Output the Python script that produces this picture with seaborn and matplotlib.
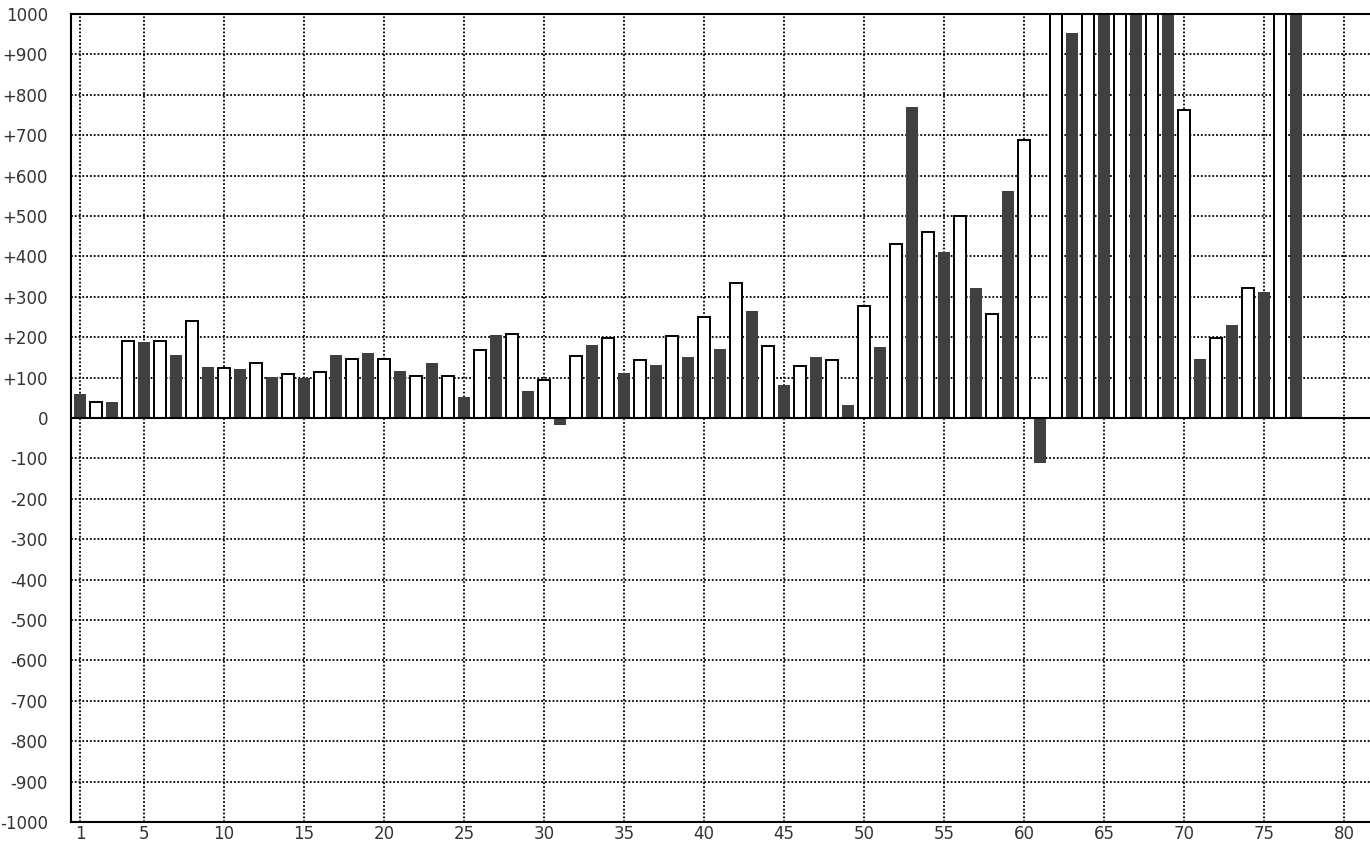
import matplotlib
matplotlib.use("Agg")
import matplotlib.pyplot as plt
import numpy as np
import pandas as pd
import seaborn as sns

# ── Data ──────────────────────────────────────────────────────────────────────
positions = list(range(1, 78))
values = [60, 40, 40, 190, 187, 190, 157, 241, 127, 125,
          122, 135, 102, 110, 98, 115, 157, 145, 162, 145,
          117, 105, 137, 105, 51, 169, 206, 209, 66, 94,
          -18, 154, 181, 199, 111, 144, 131, 204, 151, 249,
          171, 334, 266, 179, 81, 129, 151, 144, 31, 278,
          175, 430, 769, 460, 412, 500, 323, 257, 561, 688,
          -111, 1150, 952, 1200, 1180, 1250, 1220, 1300, 1260, 762,
          145, 197, 229, 321, 313, 1350, 1320]
series = ["dark" if p % 2 else "light" for p in positions]
x_ticks = [1] + list(range(5, 81, 5))
y_ticks = list(range(-1000, 1001, 100))
y_labels = [f"+{v}" if 0 < v < 1000 else str(v) for v in y_ticks]

DARK = "#404040"
sns.set_theme(style="white")
plt.rcParams["font.family"] = ["DejaVu Sans"]

df = pd.DataFrame({"pos": positions, "value": values, "series": series})

fig = plt.figure(figsize=(13.7, 8.44), dpi=100)
ax = fig.add_axes([71 / 1370, 22 / 844, 1 - 71 / 1370, 808 / 844])

sns.barplot(data=df, x="pos", y="value", hue="series",
            palette={"dark": DARK, "light": "white"}, native_scale=True,
            width=0.75, dodge=False, legend=False, errorbar=None,
            saturation=1, ax=ax)

# white bars get a black outline, dark bars none
for p in ax.patches:
    if p.get_facecolor()[0] > 0.9:
        p.set_edgecolor("black")
        p.set_linewidth(1.4)
    else:
        p.set_edgecolor("none")
        p.set_linewidth(0)

ax.set_xlim(0.44, 81.6)
ax.set_ylim(-1000, 1000)
ax.set_xticks(x_ticks)
ax.set_xticklabels([str(t) for t in x_ticks])
ax.set_yticks(y_ticks)
ax.set_yticklabels(y_labels)
ax.set_xlabel("")
ax.set_ylabel("")

ax.set_axisbelow(True)
ax.grid(True, color="black", linestyle=(0, (1, 1.1)), linewidth=1.3)
ax.axhline(0, color="black", linewidth=1.5, zorder=5)

for side in ["left", "bottom", "top"]:
    ax.spines[side].set_visible(True)
    ax.spines[side].set_color("black")
    ax.spines[side].set_linewidth(1.5)
ax.spines["right"].set_visible(False)

ax.tick_params(axis="y", length=0, pad=16.5, labelsize=12, labelcolor="#333333")
ax.tick_params(axis="x", length=0, pad=2, labelsize=12, labelcolor="#333333")

plt.savefig("out.png", dpi=100)
plt.close()
